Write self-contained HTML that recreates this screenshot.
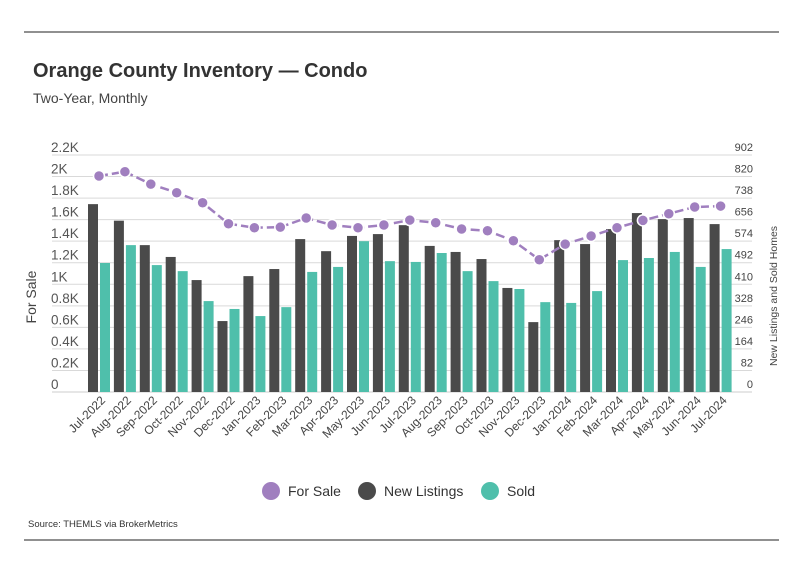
<!DOCTYPE html>
<html><head><meta charset="utf-8">
<style>
body{margin:0;background:#fff;}
svg{display:block;font-family:"Liberation Sans Narrow","Liberation Sans",sans-serif;}
</style></head>
<body>
<svg id="c" width="799" height="575">
<line x1="24" y1="32" x2="779" y2="32" stroke="#222" stroke-width="1"/>
<line x1="24" y1="540" x2="779" y2="540" stroke="#222" stroke-width="1"/>
<text x="33" y="77" font-size="20" font-weight="bold" fill="#333">Orange County Inventory — Condo</text>
<text x="33" y="103" font-size="14" fill="#444">Two-Year, Monthly</text>
<text transform="translate(36,297) rotate(-90)" text-anchor="middle" font-size="14" fill="#444">For Sale</text>
<text transform="translate(777,296) rotate(-90)" text-anchor="middle" font-size="10.5" fill="#444">New Listings and Sold Homes</text>
<g id="grid"></g><g id="bars"></g><g id="line"></g><g id="xl"></g>
<g>
<g><circle cx="271" cy="491" r="9" fill="#a07fbf"/><text x="288" y="496" font-size="14" fill="#333">For Sale</text></g>
<g><circle cx="367" cy="491" r="9" fill="#4a4a4a"/><text x="384" y="496" font-size="14" fill="#333">New Listings</text></g>
<g><circle cx="490" cy="491" r="9" fill="#4fbfab"/><text x="507" y="496" font-size="14" fill="#333">Sold</text></g>
</g>
<text x="28" y="527" font-size="9.5" fill="#333">Source:  THEMLS via BrokerMetrics</text>
</svg>
<script>
const categories=["Jul-2022","Aug-2022","Sep-2022","Oct-2022","Nov-2022","Dec-2022","Jan-2023","Feb-2023","Mar-2023","Apr-2023","May-2023","Jun-2023","Jul-2023","Aug-2023","Sep-2023","Oct-2023","Nov-2023","Dec-2023","Jan-2024","Feb-2024","Mar-2024","Apr-2024","May-2024","Jun-2024","Jul-2024"];
const forSale=[2005,2045,1930,1850,1757,1562,1525,1530,1615,1550,1525,1550,1596,1571,1513,1497,1404,1228,1373,1448,1525,1593,1655,1717,1726];
const newListings=[715,652,559,514,426,270,441,468,582,536,594,601,635,556,533,506,396,266,578,563,620,681,658,662,639];
const sold=[491,559,483,460,346,316,289,323,457,476,574,498,495,529,460,422,392,342,339,384,502,510,533,476,544];
const leftTicks=["0","0.2K","0.4K","0.6K","0.8K","1K","1.2K","1.4K","1.6K","1.8K","2K","2.2K"];
const rightTicks=["0","82","164","246","328","410","492","574","656","738","820","902"];
const NS="http://www.w3.org/2000/svg";
const y0=392,y1=155,L=52,R=752;
const yL=v=>y0-(v/2200)*(y0-y1);
const yR=v=>y0-(v/902)*(y0-y1);
const xC=i=>99+i*25.9;
function mk(t,a,p){const e=document.createElementNS(NS,t);for(const k in a)e.setAttribute(k,a[k]);p.appendChild(e);return e;}
const grid=document.getElementById('grid');
leftTicks.forEach((t,i)=>{
  const y=y0-i*(y0-y1)/11;
  const g=mk('line',{x1:L,x2:R,y1:y,y2:y,stroke:i==0?'#ccc':'#d9d9d9','stroke-width':1},grid);
  
  
  const tl=mk('text',{x:51,y:y-3,'font-size':13.5,fill:'#555'},grid);tl.textContent=t;
  
  
  const tr=mk('text',{x:753,y:y-4,'font-size':11,fill:'#444','text-anchor':'end'},grid);tr.textContent=rightTicks[i];
  
  
});
const bars=document.getElementById('bars');
categories.forEach((c,i)=>{
  const x=xC(i);
  const b1=mk('rect',{x:x-11,y:yR(newListings[i]),width:10,height:y0-yR(newListings[i]),fill:'#4a4a4a'},bars);
  
  
  const b2=mk('rect',{x:x+1,y:yR(sold[i]),width:10,height:y0-yR(sold[i]),fill:'#4fbfab'},bars);
  
  
  const t=mk('text',{transform:`translate(${x+7},${401}) rotate(-45)`,'text-anchor':'end','font-size':12,fill:'#444'},document.getElementById('xl'));
  t.textContent=c;
  
  
});
const lg=document.getElementById('line');
const pl=mk('polyline',{points:forSale.map((v,i)=>xC(i)+','+yL(v)).join(' '),fill:'none',stroke:'#a07fbf','stroke-width':2.5,'stroke-dasharray':'9,4'},lg);


forSale.forEach((v,i)=>{
  const p=mk('circle',{cx:xC(i),cy:yL(v),r:5.5,fill:'#a07fbf',stroke:'#fff','stroke-width':1.5},lg);
  
  
});
</script>
</body></html>
